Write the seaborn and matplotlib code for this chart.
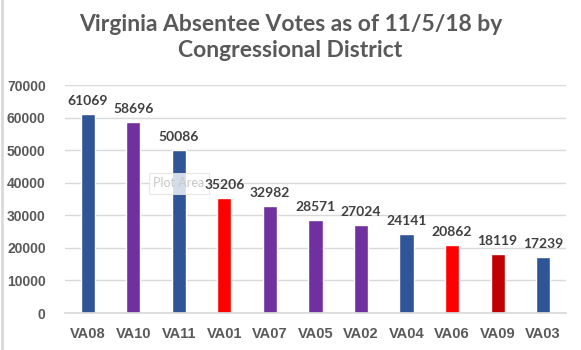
import matplotlib
matplotlib.use("Agg")
import matplotlib.pyplot as plt
import seaborn as sns
import pandas as pd

districts = ["VA08", "VA10", "VA11", "VA01", "VA07", "VA05", "VA02", "VA04", "VA06", "VA09", "VA03"]
votes = [61069, 58696, 50086, 35206, 32982, 28571, 27024, 24141, 20862, 18119, 17239]
bar_colors = ["#2F5597", "#7030A0", "#2F5597", "#FF0000", "#7030A0", "#7030A0",
              "#7030A0", "#2F5597", "#FF0000", "#C00000", "#2F5597"]
y_ticks = [0, 10000, 20000, 30000, 40000, 50000, 60000, 70000]

sns.set_theme(style="white")
plt.rcParams["font.family"] = ["Lato", "DejaVu Sans"]

df = pd.DataFrame({"district": districts, "votes": votes})

fig = plt.figure(figsize=(5.81, 3.5), dpi=100)
ax = fig.add_axes([0.112, 0.1057, 0.862, 0.6514])

sns.barplot(data=df, x="district", y="votes", hue="district",
            palette=dict(zip(districts, bar_colors)), legend=False,
            width=0.31, saturation=1, ax=ax)

ax.set_ylim(0, 70000)
ax.set_xlim(-0.5, len(districts) - 0.5)
ax.set_yticks(y_ticks)
ax.set_yticklabels([str(v) for v in y_ticks])
ax.yaxis.grid(True, color="#D9D9D9", linewidth=1)
ax.set_axisbelow(True)
for side in ["top", "right", "left"]:
    ax.spines[side].set_visible(False)
ax.spines["bottom"].set_color("#D9D9D9")
ax.set_xlabel("")
ax.set_ylabel("")
ax.tick_params(axis="both", length=0)
ax.tick_params(axis="y", pad=14)
ax.tick_params(axis="x", pad=10)
for lbl in ax.get_yticklabels():
    lbl.set_fontfamily(["Liberation Sans", "DejaVu Sans"])
    lbl.set_fontweight("bold")
    lbl.set_fontsize(10)
    lbl.set_color("#595959")
for lbl in ax.get_xticklabels():
    lbl.set_fontfamily(["Liberation Sans", "DejaVu Sans"])
    lbl.set_fontweight("bold")
    lbl.set_fontsize(10.5)
    lbl.set_color("#595959")

# value labels above each bar
for container in ax.containers:
    ax.bar_label(container, fmt="%d", padding=5, fontsize=10, fontweight="bold",
                 color="#404040", zorder=4)

fig.text(0.5, 0.893, "Virginia Absentee Votes as of 11/5/18 by\nCongressional District",
         ha="center", va="center", fontsize=16.5, fontweight="bold",
         color="#595959", linespacing=1.3)

# hover tooltip over the plot area: above the bars, beneath the value labels
ax.text(0.308, 0.476, "Plot Area", transform=fig.transFigure, ha="center",
        va="center", fontsize=9, color="#C8C8C8", zorder=2.5, clip_on=False,
        bbox=dict(boxstyle="square,pad=0.35", facecolor="white", alpha=0.8,
                  edgecolor="#E3E3E3", linewidth=0.8))

# chart frame edge on the left
fig.add_artist(plt.Line2D([0.003, 0.003], [0, 1], color="#D9D9D9", linewidth=2,
                          transform=fig.transFigure))

fig.savefig("out.png", dpi=100)
